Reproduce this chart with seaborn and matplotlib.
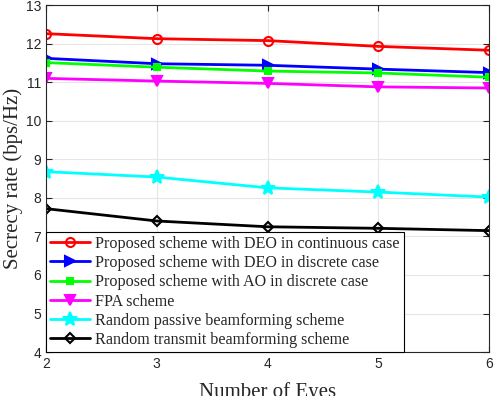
import numpy as np
import pandas as pd
import matplotlib
matplotlib.use('Agg')
import matplotlib.pyplot as plt
import seaborn as sns

# data
eves = [2, 3, 4, 5, 6]
deo_cont = [12.26, 12.13, 12.08, 11.93, 11.83]
deo_disc = [11.62, 11.48, 11.44, 11.34, 11.25]
ao_disc = [11.51, 11.39, 11.29, 11.24, 11.13]
fpa = [11.10, 11.03, 10.97, 10.88, 10.85]
rand_passive = [8.68, 8.54, 8.26, 8.15, 8.02]
rand_transmit = [7.72, 7.40, 7.25, 7.21, 7.15]

labels = ['Proposed scheme with DEO in continuous case',
          'Proposed scheme with DEO in discrete case',
          'Proposed scheme with AO in discrete case',
          'FPA scheme',
          'Random passive beamforming scheme',
          'Random transmit beamforming scheme']
series = [deo_cont, deo_disc, ao_disc, fpa, rand_passive, rand_transmit]
colors = ['red', 'blue', 'lime', 'magenta', 'cyan', 'black']
markers = ['o', '>', 's', 'v', '*', 'D']
msizes = [6.5, 7.5, 5, 7.5, 10, 5]
faces = ['none', 'blue', 'lime', 'magenta', 'cyan', 'none']

sns.set_style('whitegrid')
plt.rcParams['font.family'] = ['Liberation Sans', 'DejaVu Sans']

fig = plt.figure(figsize=(4.98, 3.96), dpi=100)
ax = fig.add_axes([0.0924, 0.111, 0.8896, 0.876])

for y, lab, c, m, ms, fc in zip(series, labels, colors, markers, msizes, faces):
    df = pd.DataFrame({'x': eves, 'y': y})
    sns.lineplot(data=df, x='x', y='y', ax=ax, color=c, marker=m, markersize=ms,
                 markerfacecolor=fc, markeredgecolor=c, markeredgewidth=1.5,
                 linewidth=2, label=lab)

ax.set_xlim(2, 6)
ax.set_ylim(4, 13)
ax.set_xticks([2, 3, 4, 5, 6])
ax.set_yticks(range(4, 14))
ax.tick_params(direction='in', labelsize=10, colors='#262626', length=4,
               top=True, right=True, bottom=True, left=True)
ax.grid(True, color='#e6e6e6', linewidth=0.8)
for s in ax.spines.values():
    s.set_color('#262626')
    s.set_linewidth(0.8)

ax.set_xlabel('Number of Eyes', family='Liberation Serif', fontsize=15, labelpad=8)
ax.set_ylabel('Secrecy rate (bps/Hz)', family='Liberation Serif', fontsize=15, labelpad=2)

leg = ax.legend(loc='lower left', bbox_to_anchor=(0, 0), borderaxespad=0,
                prop={'family': 'Liberation Serif', 'size': 11.6},
                fancybox=False, framealpha=1, edgecolor='black',
                handlelength=2.5, labelspacing=0.2, handletextpad=0.3,
                borderpad=0.25)
leg.get_frame().set_linewidth(0.8)

fig.savefig('out.png', dpi=100)
